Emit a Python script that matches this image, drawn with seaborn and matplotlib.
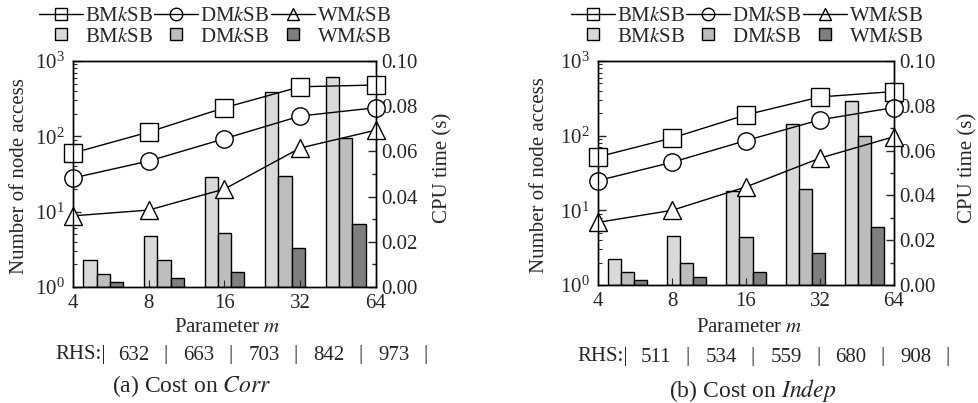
import matplotlib
matplotlib.use("Agg")
import matplotlib.pyplot as plt
import seaborn as sns
import pandas as pd
from matplotlib.lines import Line2D
from matplotlib.ticker import MultipleLocator, FormatStrFormatter, NullLocator

# data
m_values = [4, 8, 16, 32, 64]
methods = ["BMkSB", "DMkSB", "WMkSB"]

# (a) Corr
corr_nodes_bm = [60, 114, 240, 455, 480]
corr_nodes_dm = [28, 47, 93, 186, 240]
corr_nodes_wm = [8.8, 10.5, 20, 70, 121]
corr_cpu_bm = [0.0119, 0.0226, 0.0487, 0.0863, 0.093]
corr_cpu_dm = [0.0058, 0.012, 0.024, 0.049, 0.066]
corr_cpu_wm = [0.0022, 0.004, 0.0066, 0.0173, 0.028]
corr_rhs = [632, 663, 703, 842, 973]

# (b) Indep
indep_nodes_bm = [52, 93, 190, 330, 390]
indep_nodes_dm = [25, 44, 86, 163, 238]
indep_nodes_wm = [6.9, 10, 20.6, 50, 97]
indep_cpu_bm = [0.0118, 0.022, 0.0418, 0.072, 0.082]
indep_cpu_dm = [0.0058, 0.010, 0.0213, 0.043, 0.0666]
indep_cpu_wm = [0.0021, 0.0036, 0.0058, 0.0141, 0.0258]
indep_rhs = [511, 534, 559, 680, 908]

markers = ["s", "o", "^"]
bar_colors = ["#d9d9d9", "#bdbdbd", "#7f7f7f"]

sns.set_style("ticks")
plt.rcParams["font.family"] = ["Liberation Serif", "DejaVu Serif"]
plt.rcParams["mathtext.fontset"] = "stix"
FS = 15

W, H = 979, 403
fig = plt.figure(figsize=(W / 100, H / 100), dpi=100)


def fx(x):
    return x / W


def fy(y):
    return 1 - y / H


def label(name):
    return name[:2] + r"$\mathit{k}$" + name[3:]


def draw_panel(box, nodes, cpu, rhs, caption, pos):
    left, top, right, bottom = box
    rect = [fx(left), fy(bottom), (right - left) / W, (bottom - top) / H]

    # bars: CPU time on right axis
    ax_bar = fig.add_axes(rect)
    df = pd.DataFrame({
        "m": [str(v) for v in m_values] * 3,
        "method": [mm for mm in methods for _ in m_values],
        "cpu": cpu[0] + cpu[1] + cpu[2],
    })
    sns.barplot(data=df, x="m", y="cpu", hue="method", palette=bar_colors,
                width=0.66, edgecolor="black", linewidth=1, saturation=1,
                legend=False, ax=ax_bar)
    ax_bar.set_xlim(-0.5, 4.5)
    ax_bar.set_ylim(0, 0.1)
    ax_bar.set_xticks([])
    ax_bar.set_xlabel("")
    ax_bar.set_ylabel("")
    ax_bar.yaxis.tick_right()
    ax_bar.yaxis.set_major_locator(MultipleLocator(0.02))
    ax_bar.yaxis.set_minor_locator(MultipleLocator(0.01))
    ax_bar.yaxis.set_major_formatter(FormatStrFormatter("%.2f"))
    ax_bar.tick_params(axis="y", which="both", direction="in", right=True,
                       left=False, labelsize=FS, pad=4)
    ax_bar.tick_params(axis="y", which="major", length=6, width=1)
    ax_bar.tick_params(axis="y", which="minor", length=3, width=1)
    for s in ax_bar.spines.values():
        s.set_linewidth(1)
        s.set_color("black")

    # lines: node access on log axis
    ax = fig.add_axes(rect, facecolor="none")
    ax.set_zorder(ax_bar.get_zorder() + 1)
    for vals, mk in zip(nodes, markers):
        sns.lineplot(x=m_values, y=vals, ax=ax, color="black", lw=1,
                     marker=mk, markersize=12.5, markerfacecolor="white",
                     markeredgecolor="black", markeredgewidth=1,
                     clip_on=False)
    ax.set_xscale("log", base=2)
    ax.set_yscale("log")
    ax.set_xlim(4, 64)
    ax.set_ylim(1, 1000)
    ax.set_xticks(m_values)
    ax.set_xticklabels([str(v) for v in m_values])
    ax.xaxis.set_minor_locator(NullLocator())
    ax.tick_params(axis="both", which="both", direction="in", labelsize=FS)
    ax.tick_params(axis="y", which="major", length=6, width=1, pad=6)
    ax.tick_params(axis="y", which="minor", length=3, width=0.8)
    ax.tick_params(axis="x", which="major", length=5, pad=5)
    ax.tick_params(axis="y", right=False)
    for s in ax.spines.values():
        s.set_linewidth(1)
        s.set_color("black")

    cx = (left + right) / 2
    fig.text(fx(pos["ylab_l"]), fy((top + bottom) / 2 + 2), "Number of node access",
             rotation=90, ha="center", va="center", fontsize=FS)
    fig.text(fx(pos["ylab_r"]), fy(168), "CPU time (s)",
             rotation=90, ha="center", va="center", fontsize=FS)
    fig.text(fx(cx + 3), fy(pos["xlab_y"]), r"Parameter $\mathit{m}$",
             ha="center", va="center", fontsize=FS)
    fig.text(fx(pos["cap_x"]), fy(pos["cap_y"]), caption,
             ha="center", va="center", fontsize=17)

    # RHS row
    ry = fy(pos["rhs_y"])
    fig.text(fx(pos["rhs_x0"]), ry, "RHS:|", ha="right", va="center", fontsize=FS)
    for i, v in enumerate(rhs):
        nx = pos["rhs_x0"] + 28 + 65 * i
        fig.text(fx(nx), ry, str(v), ha="center", va="center", fontsize=FS)
        fig.text(fx(nx + 32), ry, "|", ha="center", va="center", fontsize=FS)

    # legend: lines on first row, bars on second row
    handles, labels = [], []
    for name, mk, col in zip(methods, markers, bar_colors):
        handles.append(Line2D([], [], color="black", lw=1, marker=mk,
                              markersize=9, markerfacecolor="none",
                              markeredgecolor="black"))
        labels.append(label(name))
        handles.append(Line2D([], [], ls="none", marker="s", markersize=8,
                              markerfacecolor=col, markeredgecolor="black"))
        labels.append(label(name))
    fig.legend(handles, labels, ncol=3, loc="center",
               bbox_to_anchor=(fx(pos["leg_x"]), fy(26.5)), frameon=False,
               fontsize=FS, handlelength=2.1, handletextpad=0.1,
               columnspacing=0.05, labelspacing=0.05, borderpad=0,
               borderaxespad=0)


draw_panel((73, 61, 376, 287),
           [corr_nodes_bm, corr_nodes_dm, corr_nodes_wm],
           [corr_cpu_bm, corr_cpu_dm, corr_cpu_wm],
           corr_rhs, r"(a) Cost on $\mathit{Corr}$",
           dict(ylab_l=20, ylab_r=443, xlab_y=328, cap_x=192, cap_y=386,
                rhs_y=355, rhs_x0=106, leg_x=215))

draw_panel((598, 61, 894, 285),
           [indep_nodes_bm, indep_nodes_dm, indep_nodes_wm],
           [indep_cpu_bm, indep_cpu_dm, indep_cpu_wm],
           indep_rhs, r"(b) Cost on $\mathit{Indep}$",
           dict(ylab_l=540, ylab_r=968, xlab_y=327, cap_x=753, cap_y=391,
                rhs_y=357, rhs_x0=628, leg_x=747))

fig.savefig("out.png", dpi=100)
